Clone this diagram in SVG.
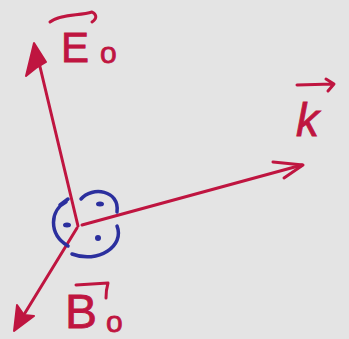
<svg xmlns="http://www.w3.org/2000/svg" width="349" height="339" viewBox="0 0 349 339">
<style>
.r{stroke:#bf1540;stroke-width:3;fill:none;stroke-linecap:round;stroke-linejoin:round}
.rf{fill:#bf1540;stroke:#bf1540;stroke-width:2;stroke-linejoin:round}
.b{stroke:#2b2f9e;stroke-width:3.5;fill:none;stroke-linecap:round}
.bd{fill:#2b2f9e}
.t{fill:#bf1540;stroke:#bf1540;stroke-width:0.8;font-family:"Liberation Sans",Arial,sans-serif}
</style>
<rect width="349" height="339" fill="#e4e4e4"/>
<g id="connectors">
<path class="r" d="M78 226 L36 50"/>
<path class="rf" d="M34 43 L26 76 L36 68 L46 62 Z"/>
<path class="r" d="M82 225 L302 165"/>
<path class="r" d="M273 162 L303 165 L284 178"/>
<path class="r" d="M77 228 L17 326"/>
<path class="rf" d="M14 331 L17 305 L24 315 L34 316 Z"/>
</g>
<g id="charge">
<path class="b" d="M66 202 C50 210 48 234 68 246"/>
<path class="b" d="M81 199 C92 186 120 190 117 212"/>
<path class="b" d="M117 226 C125 246 98 264 72 254"/>
<path class="b" d="M60 205 L68 199" stroke-width="6"/>
<ellipse class="bd" cx="100" cy="204" rx="4" ry="2.5"/>
<ellipse class="bd" cx="67" cy="225" rx="4" ry="2.5"/>
<ellipse class="bd" cx="98" cy="238" rx="3" ry="3"/>
</g>
<g id="label-E0">
<path class="r" d="M50 22 C60 14 80 16 92 12 C96 14 98 18 92 22" stroke-width="2.5"/>
<text class="t" x="61" y="62" font-size="42">E</text>
<text class="t" x="100" y="63" font-size="30">o</text>
</g>
<g id="label-k">
<path class="r" d="M297 85 L333 84 M326 79 L334 84 L328 91" stroke-width="2.5"/>
<text class="t" x="296" y="136" font-size="46" font-style="italic">k</text>
</g>
<g id="label-B0">
<path class="r" d="M76 285 L108 283 C106 290 106 294 106 298" stroke-width="2.5"/>
<text class="t" x="65" y="328" font-size="48">B</text>
<text class="t" x="106" y="332" font-size="30">o</text>
</g>
</svg>
